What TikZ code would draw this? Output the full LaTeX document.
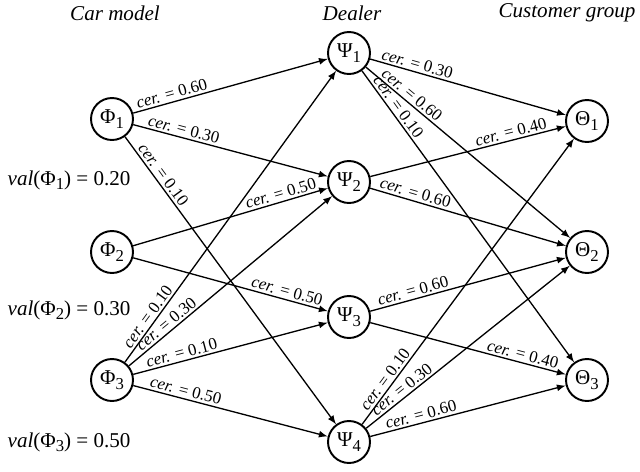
\documentclass[tikz,border=0pt]{standalone}
\usepackage{fontspec}
\setmainfont{Liberation Serif}
\usetikzlibrary{arrows}

\newcommand{\ix}[1]{\raisebox{-0.45ex}{\fontsize{9.5}{10}\selectfont #1}}

\begin{document}
\begin{tikzpicture}[x=0.02cm, y=-0.02cm,
  circ/.style={draw, circle, line width=1.1pt, minimum size=0.84cm, inner sep=0pt, font=\fontsize{12}{14}\selectfont},
  lab/.style={sloped, above, inner sep=1.2pt, font=\fontsize{9.6}{11}\selectfont},
  head/.style={font=\fontsize{12}{14}\selectfont\itshape},
  val/.style={anchor=west, inner sep=0pt, font=\fontsize{12}{14}\selectfont},
  every path/.style={line width=0.75pt}]
\useasboundingbox (0,0) rectangle (640,471);
\node (h1) [head] at (115,13) {Car model};
\node (h2) [head] at (352,13) {Dealer};
\node (h3) [head] at (567,13) {Customer group};
\node (f1) [circ] at (112,119) {Φ\ix{1}};
\node (f2) [circ] at (112,252) {Φ\ix{2}};
\node (f3) [circ] at (112,380) {Φ\ix{3}};
\node (s1) [circ] at (349,53) {Ψ\ix{1}};
\node (s2) [circ] at (349,182) {Ψ\ix{2}};
\node (s3) [circ] at (349,317) {Ψ\ix{3}};
\node (s4) [circ] at (349,442) {Ψ\ix{4}};
\node (t1) [circ] at (587,121) {Θ\ix{1}};
\node (t2) [circ] at (587,252) {Θ\ix{2}};
\node (t3) [circ] at (587,380) {Θ\ix{3}};
\node (v1) [val] at (7,180) {\textit{val}(Φ\ix{1}) = 0.20};
\node (v2) [val] at (7,310) {\textit{val}(Φ\ix{2}) = 0.30};
\node (v3) [val] at (7,442) {\textit{val}(Φ\ix{3}) = 0.50};
% car model -> dealer
\draw[-latex] (f1) -- node [lab, pos=0.21] {\textit{cer.} = 0.60} (s1);
\draw[-latex] (f1) -- node [lab, pos=0.25] {\textit{cer.} = 0.30} (s2);
\draw[-latex] (f1) -- node [lab, pos=0.15] {\textit{cer.} = 0.10} (s4);
\draw[-latex] (f2) -- node [lab, pos=0.77] {\textit{cer.} = 0.50} (s2);
\draw[-latex] (f2) -- node [lab, pos=0.78] {\textit{cer.} = 0.50} (s3);
\draw[-latex] (f3) -- node [lab, pos=0.14] {\textit{cer.} = 0.10} (s1);
\draw[-latex] (f3) -- node [lab, pos=0.21] {\textit{cer.} = 0.30} (s2);
\draw[-latex] (f3) -- node [lab, pos=0.26] {\textit{cer.} = 0.10} (s3);
\draw[-latex] (f3) -- node [lab, pos=0.26] {\textit{cer.} = 0.50} (s4);
% dealer -> customer group
\draw[-latex] (s1) -- node [lab, pos=0.23] {\textit{cer.} = 0.30} (t1);
\draw[-latex] (s1) -- node [lab, pos=0.2] {\textit{cer.} = 0.60} (t2);
\draw[-latex] (s1) -- node [lab, pos=0.14] {\textit{cer.} = 0.10} (t3);
\draw[-latex] (s2) -- node [lab, pos=0.73] {\textit{cer.} = 0.40} (t1);
\draw[-latex] (s2) -- node [lab, pos=0.22] {\textit{cer.} = 0.60} (t2);
\draw[-latex] (s3) -- node [lab, pos=0.23] {\textit{cer.} = 0.60} (t2);
\draw[-latex] (s3) -- node [lab, pos=0.77] {\textit{cer.} = 0.40} (t3);
\draw[-latex] (s4) -- node [lab, pos=0.14] {\textit{cer.} = 0.10} (t1);
\draw[-latex] (s4) -- node [lab, pos=0.2] {\textit{cer.} = 0.30} (t2);
\draw[-latex] (s4) -- node [lab, pos=0.27] {\textit{cer.} = 0.60} (t3);
\end{tikzpicture}
\end{document}
